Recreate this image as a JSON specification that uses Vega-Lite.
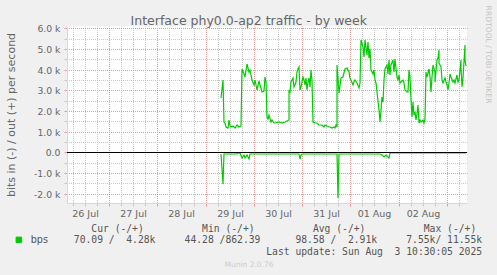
{
  "$schema": "https://vega.github.io/schema/vega-lite/v6.json",
  "width": 400,
  "height": 177,
  "autosize": "none",
  "padding": {"left": 67, "top": 26, "right": 30, "bottom": 72},
  "background": "#F0F0F0",
  "view": {"fill": "#FFFFFF", "stroke": null},
  "data": {"values": [
    {"t": "2025-07-29T07:50", "d": "out", "v": 2620},
    {"t": "2025-07-29T08:27", "d": "out", "v": 3500},
    {"t": "2025-07-29T08:57", "d": "out", "v": 1480},
    {"t": "2025-07-29T09:33", "d": "out", "v": 1400},
    {"t": "2025-07-29T10:18", "d": "out", "v": 1250},
    {"t": "2025-07-29T11:18", "d": "out", "v": 1200},
    {"t": "2025-07-29T11:47", "d": "out", "v": 1560},
    {"t": "2025-07-29T12:17", "d": "out", "v": 1300},
    {"t": "2025-07-29T12:47", "d": "out", "v": 1220},
    {"t": "2025-07-29T13:47", "d": "out", "v": 1300},
    {"t": "2025-07-29T14:47", "d": "out", "v": 1200},
    {"t": "2025-07-29T15:46", "d": "out", "v": 1350},
    {"t": "2025-07-29T16:46", "d": "out", "v": 1250},
    {"t": "2025-07-29T17:46", "d": "out", "v": 1300},
    {"t": "2025-07-29T18:15", "d": "out", "v": 4050},
    {"t": "2025-07-29T18:54", "d": "out", "v": 3820},
    {"t": "2025-07-29T19:45", "d": "out", "v": 3660},
    {"t": "2025-07-29T20:36", "d": "out", "v": 4260},
    {"t": "2025-07-29T21:24", "d": "out", "v": 3900},
    {"t": "2025-07-29T22:14", "d": "out", "v": 3980},
    {"t": "2025-07-29T23:05", "d": "out", "v": 3500},
    {"t": "2025-07-29T23:53", "d": "out", "v": 3260},
    {"t": "2025-07-30T00:44", "d": "out", "v": 3500},
    {"t": "2025-07-30T01:34", "d": "out", "v": 3000},
    {"t": "2025-07-30T02:22", "d": "out", "v": 3450},
    {"t": "2025-07-30T03:13", "d": "out", "v": 3260},
    {"t": "2025-07-30T04:04", "d": "out", "v": 2930},
    {"t": "2025-07-30T04:51", "d": "out", "v": 2960},
    {"t": "2025-07-30T05:21", "d": "out", "v": 3660},
    {"t": "2025-07-30T06:03", "d": "out", "v": 3400},
    {"t": "2025-07-30T06:33", "d": "out", "v": 1720},
    {"t": "2025-07-30T07:03", "d": "out", "v": 1640},
    {"t": "2025-07-30T07:41", "d": "out", "v": 1800},
    {"t": "2025-07-30T08:20", "d": "out", "v": 1480},
    {"t": "2025-07-30T09:02", "d": "out", "v": 1560},
    {"t": "2025-07-30T09:50", "d": "out", "v": 1400},
    {"t": "2025-07-30T10:41", "d": "out", "v": 1440},
    {"t": "2025-07-30T12:19", "d": "out", "v": 1460},
    {"t": "2025-07-30T14:01", "d": "out", "v": 1400},
    {"t": "2025-07-30T15:39", "d": "out", "v": 1480},
    {"t": "2025-07-30T16:30", "d": "out", "v": 1520},
    {"t": "2025-07-30T17:18", "d": "out", "v": 1560},
    {"t": "2025-07-30T17:38", "d": "out", "v": 3000},
    {"t": "2025-07-30T18:08", "d": "out", "v": 2940},
    {"t": "2025-07-30T18:38", "d": "out", "v": 3420},
    {"t": "2025-07-30T19:17", "d": "out", "v": 3580},
    {"t": "2025-07-30T19:47", "d": "out", "v": 3180},
    {"t": "2025-07-30T20:17", "d": "out", "v": 3260},
    {"t": "2025-07-30T20:58", "d": "out", "v": 3420},
    {"t": "2025-07-30T21:28", "d": "out", "v": 3900},
    {"t": "2025-07-30T21:58", "d": "out", "v": 4060},
    {"t": "2025-07-30T22:37", "d": "out", "v": 4140},
    {"t": "2025-07-30T23:07", "d": "out", "v": 3000},
    {"t": "2025-07-30T23:37", "d": "out", "v": 3180},
    {"t": "2025-07-31T00:15", "d": "out", "v": 3660},
    {"t": "2025-07-31T00:45", "d": "out", "v": 3500},
    {"t": "2025-07-31T01:15", "d": "out", "v": 3260},
    {"t": "2025-07-31T01:57", "d": "out", "v": 3580},
    {"t": "2025-07-31T02:27", "d": "out", "v": 3000},
    {"t": "2025-07-31T02:57", "d": "out", "v": 3420},
    {"t": "2025-07-31T03:35", "d": "out", "v": 3580},
    {"t": "2025-07-31T04:05", "d": "out", "v": 3180},
    {"t": "2025-07-31T04:35", "d": "out", "v": 3980},
    {"t": "2025-07-31T04:56", "d": "out", "v": 3500},
    {"t": "2025-07-31T05:35", "d": "out", "v": 1450},
    {"t": "2025-07-31T06:35", "d": "out", "v": 1400},
    {"t": "2025-07-31T07:25", "d": "out", "v": 1420},
    {"t": "2025-07-31T08:13", "d": "out", "v": 1350},
    {"t": "2025-07-31T09:04", "d": "out", "v": 1320},
    {"t": "2025-07-31T09:55", "d": "out", "v": 1350},
    {"t": "2025-07-31T10:42", "d": "out", "v": 1240},
    {"t": "2025-07-31T11:33", "d": "out", "v": 1320},
    {"t": "2025-07-31T13:12", "d": "out", "v": 1240},
    {"t": "2025-07-31T14:02", "d": "out", "v": 1240},
    {"t": "2025-07-31T14:53", "d": "out", "v": 1160},
    {"t": "2025-07-31T15:41", "d": "out", "v": 1240},
    {"t": "2025-07-31T16:32", "d": "out", "v": 1160},
    {"t": "2025-07-31T16:52", "d": "out", "v": 1320},
    {"t": "2025-07-31T17:16", "d": "out", "v": 1250},
    {"t": "2025-07-31T17:37", "d": "out", "v": 4220},
    {"t": "2025-07-31T18:31", "d": "out", "v": 2860},
    {"t": "2025-07-31T19:31", "d": "out", "v": 3580},
    {"t": "2025-07-31T20:09", "d": "out", "v": 3660},
    {"t": "2025-07-31T21:09", "d": "out", "v": 4060},
    {"t": "2025-07-31T22:09", "d": "out", "v": 4100},
    {"t": "2025-07-31T23:09", "d": "out", "v": 3900},
    {"t": "2025-07-31T23:59", "d": "out", "v": 3580},
    {"t": "2025-08-01T00:29", "d": "out", "v": 3500},
    {"t": "2025-08-01T01:08", "d": "out", "v": 3260},
    {"t": "2025-08-01T01:38", "d": "out", "v": 3420},
    {"t": "2025-08-01T02:29", "d": "out", "v": 3500},
    {"t": "2025-08-01T03:19", "d": "out", "v": 3340},
    {"t": "2025-08-01T04:07", "d": "out", "v": 3100},
    {"t": "2025-08-01T04:58", "d": "out", "v": 3340},
    {"t": "2025-08-01T05:28", "d": "out", "v": 5430},
    {"t": "2025-08-01T06:06", "d": "out", "v": 5110},
    {"t": "2025-08-01T06:48", "d": "out", "v": 4630},
    {"t": "2025-08-01T07:27", "d": "out", "v": 5430},
    {"t": "2025-08-01T08:06", "d": "out", "v": 4710},
    {"t": "2025-08-01T08:48", "d": "out", "v": 5350},
    {"t": "2025-08-01T09:06", "d": "out", "v": 4550},
    {"t": "2025-08-01T09:47", "d": "out", "v": 5030},
    {"t": "2025-08-01T10:26", "d": "out", "v": 3980},
    {"t": "2025-08-01T11:05", "d": "out", "v": 3820},
    {"t": "2025-08-01T11:35", "d": "out", "v": 3980},
    {"t": "2025-08-01T12:05", "d": "out", "v": 3500},
    {"t": "2025-08-01T12:46", "d": "out", "v": 3340},
    {"t": "2025-08-01T13:25", "d": "out", "v": 2930},
    {"t": "2025-08-01T14:04", "d": "out", "v": 2050},
    {"t": "2025-08-01T14:46", "d": "out", "v": 1480},
    {"t": "2025-08-01T15:16", "d": "out", "v": 2050},
    {"t": "2025-08-01T15:46", "d": "out", "v": 2690},
    {"t": "2025-08-01T16:15", "d": "out", "v": 2450},
    {"t": "2025-08-01T16:45", "d": "out", "v": 3500},
    {"t": "2025-08-01T17:24", "d": "out", "v": 4060},
    {"t": "2025-08-01T18:03", "d": "out", "v": 4220},
    {"t": "2025-08-01T18:45", "d": "out", "v": 3820},
    {"t": "2025-08-01T19:23", "d": "out", "v": 4470},
    {"t": "2025-08-01T19:53", "d": "out", "v": 3740},
    {"t": "2025-08-01T20:23", "d": "out", "v": 4220},
    {"t": "2025-08-01T21:02", "d": "out", "v": 4470},
    {"t": "2025-08-01T21:44", "d": "out", "v": 3900},
    {"t": "2025-08-01T22:23", "d": "out", "v": 4500},
    {"t": "2025-08-01T23:01", "d": "out", "v": 3660},
    {"t": "2025-08-01T23:43", "d": "out", "v": 3500},
    {"t": "2025-08-02T00:01", "d": "out", "v": 3740},
    {"t": "2025-08-02T00:43", "d": "out", "v": 3340},
    {"t": "2025-08-02T01:22", "d": "out", "v": 3420},
    {"t": "2025-08-02T02:00", "d": "out", "v": 3500},
    {"t": "2025-08-02T02:42", "d": "out", "v": 3340},
    {"t": "2025-08-02T03:21", "d": "out", "v": 3000},
    {"t": "2025-08-02T04:00", "d": "out", "v": 2930},
    {"t": "2025-08-02T04:42", "d": "out", "v": 2930},
    {"t": "2025-08-02T05:20", "d": "out", "v": 3980},
    {"t": "2025-08-02T05:50", "d": "out", "v": 3660},
    {"t": "2025-08-02T06:20", "d": "out", "v": 2530},
    {"t": "2025-08-02T06:41", "d": "out", "v": 1720},
    {"t": "2025-08-02T06:59", "d": "out", "v": 2450},
    {"t": "2025-08-02T07:29", "d": "out", "v": 1800},
    {"t": "2025-08-02T07:59", "d": "out", "v": 1960},
    {"t": "2025-08-02T08:40", "d": "out", "v": 1560},
    {"t": "2025-08-02T09:10", "d": "out", "v": 1880},
    {"t": "2025-08-02T09:40", "d": "out", "v": 2290},
    {"t": "2025-08-02T09:58", "d": "out", "v": 1410},
    {"t": "2025-08-02T10:40", "d": "out", "v": 1560},
    {"t": "2025-08-02T11:19", "d": "out", "v": 1480},
    {"t": "2025-08-02T11:57", "d": "out", "v": 1560},
    {"t": "2025-08-02T12:39", "d": "out", "v": 1430},
    {"t": "2025-08-02T13:18", "d": "out", "v": 1640},
    {"t": "2025-08-02T13:48", "d": "out", "v": 3900},
    {"t": "2025-08-02T14:18", "d": "out", "v": 3660},
    {"t": "2025-08-02T14:57", "d": "out", "v": 4060},
    {"t": "2025-08-02T15:38", "d": "out", "v": 3660},
    {"t": "2025-08-02T16:17", "d": "out", "v": 2930},
    {"t": "2025-08-02T16:38", "d": "out", "v": 3660},
    {"t": "2025-08-02T17:17", "d": "out", "v": 4220},
    {"t": "2025-08-02T17:56", "d": "out", "v": 3900},
    {"t": "2025-08-02T18:17", "d": "out", "v": 3420},
    {"t": "2025-08-02T18:55", "d": "out", "v": 4470},
    {"t": "2025-08-02T19:25", "d": "out", "v": 4550},
    {"t": "2025-08-02T19:55", "d": "out", "v": 4950},
    {"t": "2025-08-02T20:16", "d": "out", "v": 4310},
    {"t": "2025-08-02T20:46", "d": "out", "v": 4220},
    {"t": "2025-08-02T21:16", "d": "out", "v": 4140},
    {"t": "2025-08-02T21:36", "d": "out", "v": 3500},
    {"t": "2025-08-02T22:15", "d": "out", "v": 3340},
    {"t": "2025-08-02T22:54", "d": "out", "v": 3580},
    {"t": "2025-08-02T23:36", "d": "out", "v": 3420},
    {"t": "2025-08-03T00:06", "d": "out", "v": 3260},
    {"t": "2025-08-03T00:35", "d": "out", "v": 3020},
    {"t": "2025-08-03T00:54", "d": "out", "v": 3340},
    {"t": "2025-08-03T01:35", "d": "out", "v": 3820},
    {"t": "2025-08-03T02:14", "d": "out", "v": 3660},
    {"t": "2025-08-03T02:53", "d": "out", "v": 3420},
    {"t": "2025-08-03T03:35", "d": "out", "v": 3500},
    {"t": "2025-08-03T04:14", "d": "out", "v": 3340},
    {"t": "2025-08-03T04:52", "d": "out", "v": 3740},
    {"t": "2025-08-03T05:34", "d": "out", "v": 3420},
    {"t": "2025-08-03T06:13", "d": "out", "v": 3500},
    {"t": "2025-08-03T06:52", "d": "out", "v": 4470},
    {"t": "2025-08-03T07:13", "d": "out", "v": 4140},
    {"t": "2025-08-03T07:33", "d": "out", "v": 3180},
    {"t": "2025-08-03T08:12", "d": "out", "v": 3580},
    {"t": "2025-08-03T08:51", "d": "out", "v": 5190},
    {"t": "2025-08-03T09:12", "d": "out", "v": 4470},
    {"t": "2025-08-03T09:33", "d": "out", "v": 4200},
    {"t": "2025-07-29T07:50", "d": "in", "v": -100},
    {"t": "2025-07-29T08:27", "d": "in", "v": -1550},
    {"t": "2025-07-29T08:57", "d": "in", "v": -100},
    {"t": "2025-07-29T15:37", "d": "in", "v": -100},
    {"t": "2025-07-29T16:01", "d": "in", "v": -30},
    {"t": "2025-07-29T17:16", "d": "in", "v": -40},
    {"t": "2025-07-29T18:07", "d": "in", "v": -280},
    {"t": "2025-07-29T18:54", "d": "in", "v": -120},
    {"t": "2025-07-29T19:45", "d": "in", "v": -280},
    {"t": "2025-07-29T20:36", "d": "in", "v": -120},
    {"t": "2025-07-29T21:24", "d": "in", "v": -300},
    {"t": "2025-07-29T22:14", "d": "in", "v": -100},
    {"t": "2025-07-30T22:16", "d": "in", "v": -100},
    {"t": "2025-07-30T22:46", "d": "in", "v": -340},
    {"t": "2025-07-30T23:22", "d": "in", "v": -120},
    {"t": "2025-07-31T00:06", "d": "in", "v": -80},
    {"t": "2025-07-31T17:22", "d": "in", "v": -80},
    {"t": "2025-07-31T17:52", "d": "in", "v": -2190},
    {"t": "2025-07-31T18:22", "d": "in", "v": -100},
    {"t": "2025-08-01T14:55", "d": "in", "v": -100},
    {"t": "2025-08-01T15:54", "d": "in", "v": -150},
    {"t": "2025-08-01T16:54", "d": "in", "v": -200},
    {"t": "2025-08-01T17:54", "d": "in", "v": -120},
    {"t": "2025-08-01T19:03", "d": "in", "v": -290},
    {"t": "2025-08-01T19:32", "d": "in", "v": -20},
    {"t": "2025-08-03T09:42", "d": "in", "v": -20}
  ]},
  "layer": [
    {
      "transform": [{"filter": "datum.d == 'out'"}],
      "mark": {"type": "line", "strokeWidth": 1.2},
      "encoding": {
        "x": {
          "field": "t", "type": "temporal",
          "scale": {"round": true, "domain": [
            {"year": 2025, "month": 7, "date": 26, "hours": 3, "minutes": 3},
            {"year": 2025, "month": 8, "date": 3, "hours": 10, "minutes": 3}
          ]},
          "axis": {
            "orient": "bottom",
            "values": [
              {"year": 2025, "month": 7, "date": 26, "hours": 6},
              {"year": 2025, "month": 7, "date": 26, "hours": 12},
              {"year": 2025, "month": 7, "date": 26, "hours": 18},
              {"year": 2025, "month": 7, "date": 27, "hours": 0},
              {"year": 2025, "month": 7, "date": 27, "hours": 6},
              {"year": 2025, "month": 7, "date": 27, "hours": 12},
              {"year": 2025, "month": 7, "date": 27, "hours": 18},
              {"year": 2025, "month": 7, "date": 28, "hours": 0},
              {"year": 2025, "month": 7, "date": 28, "hours": 6},
              {"year": 2025, "month": 7, "date": 28, "hours": 12},
              {"year": 2025, "month": 7, "date": 28, "hours": 18},
              {"year": 2025, "month": 7, "date": 29, "hours": 0},
              {"year": 2025, "month": 7, "date": 29, "hours": 6},
              {"year": 2025, "month": 7, "date": 29, "hours": 12},
              {"year": 2025, "month": 7, "date": 29, "hours": 18},
              {"year": 2025, "month": 7, "date": 30, "hours": 0},
              {"year": 2025, "month": 7, "date": 30, "hours": 6},
              {"year": 2025, "month": 7, "date": 30, "hours": 12},
              {"year": 2025, "month": 7, "date": 30, "hours": 18},
              {"year": 2025, "month": 7, "date": 31, "hours": 0},
              {"year": 2025, "month": 7, "date": 31, "hours": 6},
              {"year": 2025, "month": 7, "date": 31, "hours": 12},
              {"year": 2025, "month": 7, "date": 31, "hours": 18},
              {"year": 2025, "month": 8, "date": 1, "hours": 0},
              {"year": 2025, "month": 8, "date": 1, "hours": 6},
              {"year": 2025, "month": 8, "date": 1, "hours": 12},
              {"year": 2025, "month": 8, "date": 1, "hours": 18},
              {"year": 2025, "month": 8, "date": 2, "hours": 0},
              {"year": 2025, "month": 8, "date": 2, "hours": 6},
              {"year": 2025, "month": 8, "date": 2, "hours": 12},
              {"year": 2025, "month": 8, "date": 2, "hours": 18},
              {"year": 2025, "month": 8, "date": 3, "hours": 0},
              {"year": 2025, "month": 8, "date": 3, "hours": 6}
            ],
            "grid": true,
            "gridColor": {"condition": {"test": "hours(datum.value) == 0", "value": "#E89A9A"}, "value": "#C8C8C8"},
            "gridDash": [1, 1],
            "gridDashOffset": 0.5,
            "ticks": true,
            "tickSize": 3,
            "tickColor": {"condition": {"test": "hours(datum.value) == 0", "value": "#E89A9A"}, "value": "#C8C8C8"},
            "domain": true,
            "domainColor": "#CFD6F8",
            "labelExpr": "hours(datum.value) == 12 ? timeFormat(datum.value, '%d %b') : ''",
            "labelFont": "DejaVu Sans",
            "labelFontSize": 9.5,
            "labelColor": "#666666",
            "labelBaseline": "alphabetic",
            "labelPadding": 10,
            "labelOverlap": false,
            "labelFlush": false,
            "title": "Munin 2.0.76",
            "titleFont": "DejaVu Sans",
            "titleFontSize": 7.5,
            "titleFontWeight": "normal",
            "titleColor": "#CCCCCC",
            "titleX": 181.5,
            "titleY": 63.7,
            "titleAlign": "center",
            "titleBaseline": "alphabetic"
          }
        },
        "y": {
          "field": "v", "type": "quantitative",
          "scale": {"domain": [-2450, 6120], "nice": false, "zero": false, "round": true},
          "axis": {
            "orient": "left",
            "values": [-2000, -1500, -1000, -500, 0, 500, 1000, 1500, 2000, 2500, 3000, 3500, 4000, 4500, 5000, 5500, 6000],
            "grid": true,
            "gridColor": {"condition": {"test": "datum.value % 1000 == 0", "value": "#E89A9A"}, "value": "#C8C8C8"},
            "gridDash": [1, 1],
            "gridDashOffset": 0.5,
            "tickSize": 3,
            "tickColor": {"condition": {"test": "datum.value % 1000 == 0", "value": "#E89A9A"}, "value": "#C8C8C8"},
            "domain": true,
            "domainColor": "#CFD6F8",
            "labelExpr": "datum.value % 1000 != 0 ? '' : (datum.value == 0 ? '0.0' : (datum.value < 0 ? '-' : '') + format(abs(datum.value) / 1000, '.1f') + ' k')",
            "labelFont": "DejaVu Sans",
            "labelFontSize": 9.3,
            "labelColor": "#666666",
            "labelPadding": 4,
            "labelOverlap": false,
            "labelFlush": false,
            "title": "bits in (-) / out (+) per second",
            "titleFont": "DejaVu Sans",
            "titleFontSize": 11,
            "titleFontWeight": "normal",
            "titleColor": "#666666",
            "titleAngle": -90,
            "titleX": -53,
            "titleY": 88.5,
            "titleAlign": "center",
            "titleBaseline": "alphabetic"
          }
        },
        "color": {
          "datum": "bps",
          "scale": {"range": ["#00CC00"]},
          "legend": {
            "orient": "none",
            "legendX": -53,
            "legendY": 209,
            "title": null,
            "padding": 0,
            "symbolType": "square",
            "symbolSize": 30,
            "symbolFillColor": "#00CC00",
            "symbolStrokeColor": "#00CC00",
            "symbolStrokeWidth": 1,
            "labelFont": "DejaVu Sans",
            "labelFontSize": 9.7,
            "labelColor": "#555555",
            "labelOffset": 7
          }
        }
      }
    },
    {
      "transform": [{"filter": "datum.d == 'in'"}],
      "mark": {"type": "line", "strokeWidth": 1.2},
      "encoding": {
        "x": {
          "field": "t", "type": "temporal",
          "axis": {
            "orient": "bottom",
            "labels": false, "ticks": false, "domain": false, "grid": false,
            "title": [
              "\u200b\u00a0\u00a0\u00a0Cur\u00a0(-/+)\u00a0\u00a0\u00a0\u00a0\u00a0\u00a0\u00a0\u00a0\u00a0\u00a0Min\u00a0(-/+)\u00a0\u00a0\u00a0\u00a0\u00a0\u00a0\u00a0\u00a0\u00a0\u00a0Avg\u00a0(-/+)\u00a0\u00a0\u00a0\u00a0\u00a0\u00a0\u00a0\u00a0\u00a0\u00a0Max\u00a0(-/+)",
              "70.09\u00a0/\u00a0\u00a04.28k\u00a0\u00a0\u00a0\u00a0\u00a044.28\u00a0/862.39\u00a0\u00a0\u00a0\u00a0\u00a0\u00a098.58\u00a0/\u00a0\u00a02.91k\u00a0\u00a0\u00a0\u00a0\u00a07.55k/\u00a011.55k",
              "\u200b\u00a0\u00a0\u00a0\u00a0\u00a0\u00a0\u00a0\u00a0\u00a0\u00a0\u00a0\u00a0\u00a0\u00a0\u00a0\u00a0\u00a0\u00a0\u00a0\u00a0\u00a0\u00a0\u00a0\u00a0\u00a0\u00a0\u00a0\u00a0\u00a0\u00a0\u00a0\u00a0\u00a0Last\u00a0update:\u00a0Sun\u00a0Aug\u00a0\u00a03\u00a010:30:05\u00a02025"
            ],
            "titleFont": "DejaVu Sans Mono",
            "titleFontSize": 9.7,
            "titleFontWeight": "normal",
            "titleColor": "#555555",
            "titleX": 6.3,
            "titleY": 28,
            "titleAlign": "left",
            "titleBaseline": "alphabetic",
            "titleLineHeight": 11.8
          }
        },
        "y": {
          "field": "v", "type": "quantitative",
          "axis": {
            "orient": "right",
            "labels": false, "ticks": false, "domain": false, "grid": false,
            "title": "RRDTOOL / TOBI OETIKER",
            "titleFont": "DejaVu Sans",
            "titleFontSize": 7.6,
            "titleFontWeight": "normal",
            "titleColor": "#C4C4C4",
            "titleAngle": 90,
            "titleX": 20.8,
            "titleY": 28,
            "titleAlign": "center",
            "titleBaseline": "middle"
          }
        },
        "color": {"datum": "bps"}
      }
    },
    {
      "mark": {"type": "rule", "color": "#000000", "strokeWidth": 1, "yOffset": 0.5},
      "encoding": {
        "y": {
          "datum": 0,
          "axis": {
            "orient": "left",
            "labels": false, "ticks": false, "domain": false, "grid": false,
            "title": "Interface phy0.0-ap2 traffic - by week",
            "titleFont": "DejaVu Sans",
            "titleFontSize": 12.5,
            "titleFontWeight": "normal",
            "titleColor": "#666666",
            "titleAngle": 0,
            "titleX": 181.3,
            "titleY": -2,
            "titleAlign": "center",
            "titleBaseline": "alphabetic"
          }
        }
      }
    }
  ],
  "resolve": {"axis": {"x": "independent", "y": "independent"}}
}
